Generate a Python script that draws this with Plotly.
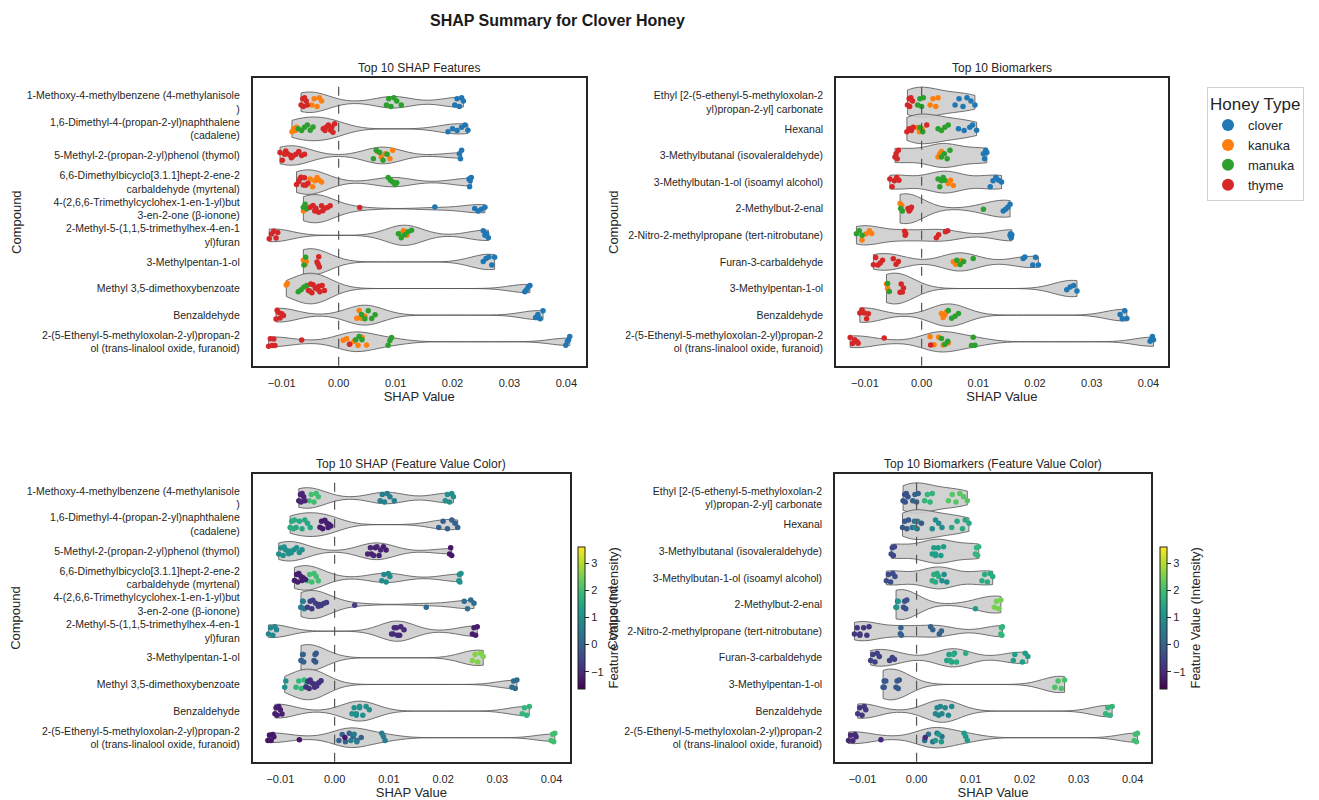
import plotly.graph_objects as go
from plotly.subplots import make_subplots
from plotly.colors import sample_colorscale

W, H = 1319, 800

honey_types = ["clover", "kanuka", "manuka", "thyme"]
honey_colors = ["#1f77b4", "#ff7f0e", "#2ca02c", "#d62728"]

# ---------------- Panel A: Top 10 SHAP features ----------------
shap_compounds = [
    "1-Methoxy-4-methylbenzene (4-methylanisole<br>)",
    "1,6-Dimethyl-4-(propan-2-yl)naphthalene<br>(cadalene)",
    "5-Methyl-2-(propan-2-yl)phenol (thymol)",
    "6,6-Dimethylbicyclo[3.1.1]hept-2-ene-2<br>carbaldehyde (myrtenal)",
    "4-(2,6,6-Trimethylcyclohex-1-en-1-yl)but<br>3-en-2-one (β-ionone)",
    "2-Methyl-5-(1,1,5-trimethylhex-4-en-1<br>yl)furan",
    "3-Methylpentan-1-ol",
    "Methyl 3,5-dimethoxybenzoate",
    "Benzaldehyde",
    "2-(5-Ethenyl-5-methyloxolan-2-yl)propan-2<br>ol (trans-linalool oxide, furanoid)",
]
shap_clover = [
    [0.0204, 0.0208, 0.0212, 0.0216, 0.0219],
    [0.0192, 0.0200, 0.0208, 0.0216, 0.0222, 0.0227],
    [0.0212, 0.0214, 0.0216],
    [0.0229, 0.0230, 0.0231, 0.0233],
    [0.0169, 0.0239, 0.0245, 0.0251, 0.0257],
    [0.0254, 0.0257, 0.0260, 0.0263],
    [0.0254, 0.0259, 0.0264, 0.0269, 0.0274],
    [0.0327, 0.0330, 0.0333, 0.0336],
    [0.0346, 0.0350, 0.0354, 0.0359],
    [0.0399, 0.0402, 0.0404, 0.0406],
]
shap_kanuka = [
    [-0.0047, -0.0043, -0.0038, -0.0034, -0.0030],
    [-0.0082, -0.0079, -0.0076, -0.0074],
    [0.0068, 0.0075, 0.0082, 0.0090, 0.0095],
    [-0.0050, -0.0046, -0.0042, -0.0038, -0.0034, -0.0030],
    [-0.0062, -0.0058],
    [0.0108, 0.0114, 0.0120],
    [-0.0062, -0.0059, -0.0057],
    [-0.0092, -0.0090],
    [0.0032, 0.0036, 0.0040, 0.0046],
    [0.0008, 0.0014, 0.0020, 0.0027, 0.0034, 0.0041, 0.0049],
]
shap_manuka = [
    [0.0084, 0.0088, 0.0092, 0.0097, 0.0102, 0.0110],
    [-0.0071, -0.0065, -0.0060, -0.0055, -0.0050, -0.0045],
    [0.0061, 0.0066, 0.0072, 0.0078, 0.0085],
    [0.0087, 0.0091, 0.0095, 0.0099, 0.0102],
    [-0.0062, -0.0059, -0.0056],
    [0.0105, 0.0110, 0.0116, 0.0122, 0.0128],
    [-0.0061, -0.0058],
    [-0.0071, -0.0066, -0.0061, -0.0056, -0.0051],
    [0.0040, 0.0046, 0.0052, 0.0058, 0.0064],
    [0.0030, 0.0036, 0.0041, 0.0087, 0.0090, 0.0093],
]
shap_thyme = [
    [-0.0066, -0.0063, -0.0062, -0.0060, -0.0057, -0.0055],
    [-0.0027, -0.0024, -0.0022, -0.0018, -0.0014, -0.0012, -0.0010, -0.0007],
    [-0.0103, -0.0099, -0.0095, -0.0093, -0.0090, -0.0085, -0.0083, -0.0080, -0.0075, -0.0070, -0.0065, -0.0060],
    [-0.0074, -0.0070, -0.0068, -0.0066, -0.0062, -0.0060, -0.0058, -0.0054],
    [-0.0050, -0.0045, -0.0042, -0.0040, -0.0035, -0.0030, -0.0028, -0.0025, -0.0020, -0.0015, 0.0037],
    [-0.0122, -0.0118, -0.0114, -0.0110, -0.0107],
    [-0.0038, -0.0036, -0.0035, -0.0034],
    [-0.0053, -0.0049, -0.0047, -0.0045, -0.0041, -0.0037, -0.0035, -0.0033, -0.0029, -0.0025],
    [-0.0110, -0.0108, -0.0106, -0.0103, -0.0100, -0.0097],
    [-0.0123, -0.0120, -0.0117, -0.0114, -0.0112, -0.0065, 0.0019],
]
# feature value (intensity) of each honey-type group, used for colour in the lower panel
shap_fv_clover = [1.0, 0.0, -1.3, 1.0, 0.2, -1.2, 2.6, 0.2, 1.8, 2.0]
shap_fv_kanuka = [2.0, 1.6, -1.2, 2.0, 0.6, -1.0, 0.0, 1.0, 1.0, 0.0]
shap_fv_manuka = [0.6, 1.5, -1.1, 0.9, 0.6, -1.0, 0.0, 1.8, 1.0, 0.6]
shap_fv_thyme = [-1.1, -1.2, 1.0, -1.2, -0.7, 0.8, -0.2, -0.9, -1.2, -1.3]

# ---------------- Panel B: Top 10 biomarkers ----------------
bio_compounds = [
    "Ethyl [2-(5-ethenyl-5-methyloxolan-2<br>yl)propan-2-yl] carbonate",
    "Hexanal",
    "3-Methylbutanal (isovaleraldehyde)",
    "3-Methylbutan-1-ol (isoamyl alcohol)",
    "2-Methylbut-2-enal",
    "2-Nitro-2-methylpropane (tert-nitrobutane)",
    "Furan-3-carbaldehyde",
    "3-Methylpentan-1-ol",
    "Benzaldehyde",
    "2-(5-Ethenyl-5-methyloxolan-2-yl)propan-2<br>ol (trans-linalool oxide, furanoid)",
]
bio_clover = [
    [0.0059, 0.0066, 0.0073, 0.0080, 0.0087, 0.0094],
    [0.0065, 0.0075, 0.0085, 0.0090, 0.0097],
    [0.0109, 0.0111, 0.0113, 0.0115],
    [0.0121, 0.0126, 0.0131, 0.0136, 0.0141],
    [0.0144, 0.0148, 0.0152, 0.0156],
    [0.0156, 0.0157, 0.0158, 0.0159],
    [0.0179, 0.0182, 0.0196, 0.0201, 0.0206],
    [0.0256, 0.0262, 0.0268, 0.0274],
    [0.0350, 0.0354, 0.0358, 0.0362],
    [0.0403, 0.0405, 0.0407, 0.0409],
]
bio_kanuka = [
    [0.0015, 0.0020, 0.0025, 0.0029],
    [-0.0008, -0.0004, 0.0001],
    [0.0029, 0.0032, 0.0035],
    [0.0047, 0.0051, 0.0056],
    [-0.0038, -0.0035],
    [-0.0105, -0.0098, -0.0092, -0.0088],
    [0.0056, 0.0060, 0.0065, 0.0070],
    [-0.0062, -0.0060],
    [0.0035, 0.0038, 0.0041, 0.0044],
    [0.0015, 0.0022, 0.0030, 0.0038, 0.0047],
]
bio_manuka = [
    [-0.0007, -0.0003, 0.0000, 0.0003],
    [-0.0003, 0.0002, 0.0029, 0.0035, 0.0041, 0.0047],
    [0.0035, 0.0040, 0.0045, 0.0050],
    [0.0029, 0.0032, 0.0035, 0.0038, 0.0041],
    [-0.0037, -0.0034, 0.0109],
    [-0.0115, -0.0110, -0.0105],
    [0.0062, 0.0068, 0.0074, 0.0091],
    [-0.0060, -0.0057],
    [0.0047, 0.0053, 0.0059, 0.0065],
    [0.0035, 0.0041, 0.0046, 0.0088, 0.0091, 0.0094],
]
bio_thyme = [
    [-0.0025, -0.0022, -0.0021, -0.0019, -0.0016],
    [-0.0026, -0.0022, -0.0018, -0.0015, 0.0009],
    [-0.0047, -0.0045, -0.0043, -0.0041],
    [-0.0056, -0.0052, -0.0048, -0.0044, -0.0040],
    [-0.0024, -0.0022, -0.0020, -0.0018],
    [-0.0030, -0.0029, -0.0028, 0.0026, 0.0030, 0.0042, 0.0046],
    [-0.0085, -0.0081, -0.0077, -0.0073, -0.0069, -0.0050, -0.0045, -0.0041],
    [-0.0038, -0.0036, -0.0034, -0.0032],
    [-0.0109, -0.0105, -0.0101, -0.0097, -0.0094],
    [-0.0126, -0.0122, -0.0118, -0.0114, -0.0112, -0.0066, 0.0016],
]
bio_fv_clover = [2.2, 1.5, 1.8, 1.6, 2.5, 1.8, 1.3, 2.1, 1.8, 2.0]
bio_fv_kanuka = [1.8, 0.3, 1.3, 0.9, -0.3, -0.8, 1.3, -0.2, 0.8, 0.3]
bio_fv_manuka = [0.0, 0.9, 1.3, 1.6, 1.2, -0.8, 1.6, -0.2, 0.8, 1.2]
bio_fv_thyme = [-0.3, -0.2, -0.5, -0.4, -0.3, 0.0, -0.6, -0.2, -0.8, -1.0]

x_ticks = [-0.01, 0.0, 0.01, 0.02, 0.03, 0.04]
fv_min, fv_max = -1.63, 3.6

panel_titles = ["Top 10 SHAP Features", "Top 10 Biomarkers",
                "Top 10 SHAP (Feature Value Color)", "Top 10 Biomarkers (Feature Value Color)"]

# ---------------- layout geometry (pixels) ----------------
FONT = "Liberation Sans, Arial, sans-serif"
TXT = "#262626"
px_dom = {
    (1, 1): (252.7, 585.7, 78.3, 365.7),
    (1, 2): (836.0, 1167.7, 78.3, 365.7),
    (2, 1): (252.7, 570.0, 474.0, 761.7),
    (2, 2): (835.0, 1151.0, 474.0, 761.7),
}

fig = make_subplots(rows=2, cols=2)

def add_violin(cats, groups, row, col):
    xs, ys = [], []
    for g in groups:
        for cat, vals in zip(cats, g):
            xs += vals
            ys += [cat] * len(vals)
    fig.add_trace(go.Violin(
        x=xs, y=ys, orientation="h", points=False, spanmode="hard",
        width=1.15, scalemode="width", bandwidth=0.0031,
        fillcolor="rgba(205,205,205,0.9)", line=dict(color="#505050", width=0.8),
        box_visible=False, meanline_visible=False, showlegend=False, hoverinfo="skip",
    ), row=row, col=col)

def strip_kwargs(color):
    return dict(
        orientation="h", boxpoints="all", jitter=1.0, pointpos=0, width=0.4,
        fillcolor="rgba(0,0,0,0)", line=dict(color="rgba(0,0,0,0)", width=0),
        marker=dict(color=color, size=5.5, line=dict(width=0)),
        hoveron="points", showlegend=False,
    )

def add_honey_strip(cats, groups, row, col):
    for name, color, g in zip(honey_types, honey_colors, groups):
        xs, ys = [], []
        for cat, vals in zip(cats, g):
            xs += vals
            ys += [cat] * len(vals)
        fig.add_trace(go.Box(x=xs, y=ys, name=name, **strip_kwargs(color)),
                      row=row, col=col)

def add_value_strip(cats, groups, fvs, row, col):
    for g, fv in zip(groups, fvs):
        for cat, vals, v in zip(cats, g, fv):
            c = sample_colorscale("Viridis", [(v - fv_min) / (fv_max - fv_min)])[0]
            fig.add_trace(go.Box(x=vals, y=[cat] * len(vals), **strip_kwargs(c)),
                          row=row, col=col)

shap_groups = [shap_clover, shap_kanuka, shap_manuka, shap_thyme]
bio_groups = [bio_clover, bio_kanuka, bio_manuka, bio_thyme]
shap_fvs = [shap_fv_clover, shap_fv_kanuka, shap_fv_manuka, shap_fv_thyme]
bio_fvs = [bio_fv_clover, bio_fv_kanuka, bio_fv_manuka, bio_fv_thyme]

add_violin(shap_compounds, shap_groups, 1, 1)
add_honey_strip(shap_compounds, shap_groups, 1, 1)
add_violin(bio_compounds, bio_groups, 1, 2)
add_honey_strip(bio_compounds, bio_groups, 1, 2)
add_violin(shap_compounds, shap_groups, 2, 1)
add_value_strip(shap_compounds, shap_groups, shap_fvs, 2, 1)
add_violin(bio_compounds, bio_groups, 2, 2)
add_value_strip(bio_compounds, bio_groups, bio_fvs, 2, 2)

# legend entries (dot markers)
for name, color in zip(honey_types, honey_colors):
    fig.add_trace(go.Scatter(x=[None], y=[None], mode="markers", name=name,
                             marker=dict(color=color, size=6), showlegend=True),
                  row=1, col=2)

# colour bars
for (row, col), fvs in [((2, 1), shap_fvs), ((2, 2), bio_fvs)]:
    cb_left = 578.0 if col == 1 else 1160.0
    allv = [v for f in fvs for v in f]
    fig.add_trace(go.Scatter(
        x=[None] * len(allv), y=[None] * len(allv), mode="markers", showlegend=False,
        marker=dict(color=allv, colorscale="Viridis", cmin=fv_min, cmax=fv_max, showscale=True,
                    colorbar=dict(
                        x=cb_left / W, xanchor="left", xpad=0, ypad=0,
                        y=1 - (546.7 + 689.0) / 2 / H, yanchor="middle",
                        len=(689.0 - 546.7) / H, lenmode="fraction", thickness=7,
                        outlinewidth=1, outlinecolor="#222",
                        tickvals=[-1, 0, 1, 2, 3], ticks="outside", ticklen=4, tickcolor="#222",
                        tickfont=dict(size=11, color=TXT, family=FONT),
                        title=dict(text="Feature Value (Intensity)", side="right",
                                   font=dict(size=13, color=TXT, family=FONT)),
                    )),
    ), row=row, col=col)

# axes
for (row, col), (x0, x1, y0, y1) in px_dom.items():
    cats = shap_compounds if col == 1 else bio_compounds
    fig.update_xaxes(
        domain=[x0 / W, x1 / W], range=[-0.0151, 0.0434], tickvals=x_ticks,
        tickformat=".2f", ticks="", ticklabelstandoff=6, showgrid=False, zeroline=False,
        showline=True, mirror=True, linecolor="#262626", linewidth=1.6,
        tickfont=dict(size=11, color=TXT, family=FONT), automargin=False,
        title=dict(text="SHAP Value", standoff=4, font=dict(size=13, color=TXT, family=FONT)),
        row=row, col=col)
    fig.update_yaxes(
        domain=[1 - y1 / H, 1 - y0 / H], type="category", categoryorder="array",
        categoryarray=cats, range=[9.9, -0.9], ticks="", ticklabelstandoff=9,
        showgrid=False, zeroline=False, showline=True, mirror=True,
        linecolor="#262626", linewidth=1.6, automargin=False,
        tickfont=dict(size=10.5, color=TXT, family=FONT),
        row=row, col=col)
    fig.add_vline(x=0, line=dict(color="#555555", width=1.2, dash="dash"), row=row, col=col)

annotations = []
for (row, col), t in zip([(1, 1), (1, 2), (2, 1), (2, 2)], panel_titles):
    x0, x1, y0, y1 = px_dom[(row, col)]
    annotations.append(dict(text=t, x=(x0 + x1) / 2 / W, y=1 - (y0 - 10) / H, xref="paper",
                            yref="paper", xanchor="center", yanchor="middle", showarrow=False,
                            font=dict(size=12, color=TXT, family=FONT)))
    ylab_x = 16 if col == 1 else 613
    annotations.append(dict(text="Compound", x=ylab_x / W, y=1 - (y0 + y1) / 2 / H, xref="paper",
                            yref="paper", xanchor="center", yanchor="middle", showarrow=False,
                            textangle=-90, font=dict(size=13, color=TXT, family=FONT)))
annotations.append(dict(text="<b>SHAP Summary for Clover Honey</b>", x=557 / W, y=1 - 21 / H,
                        xref="paper", yref="paper", xanchor="center", yanchor="middle",
                        showarrow=False, font=dict(size=16, color="#1a1a1a", family=FONT)))

fig.update_layout(
    width=W, height=H, template="none",
    margin=dict(l=0, r=0, t=0, b=0, autoexpand=False),
    paper_bgcolor="white", plot_bgcolor="white",
    font=dict(family=FONT, color=TXT),
    boxmode="overlay", violinmode="overlay", boxgap=0, violingap=0,
    annotations=annotations,
    legend=dict(
        title=dict(text="Honey Type", font=dict(size=17, color=TXT, family=FONT)),
        x=1207 / W, y=1 - 87 / H, xanchor="left", yanchor="top",
        bgcolor="white", bordercolor="#d0d0d0", borderwidth=1, tracegroupgap=0,
        font=dict(size=13, color=TXT, family=FONT), itemsizing="constant",
    ),
)

fig.write_html("out.html", config={"displayModeBar": False},
               post_script="document.body.style.margin='0';")
